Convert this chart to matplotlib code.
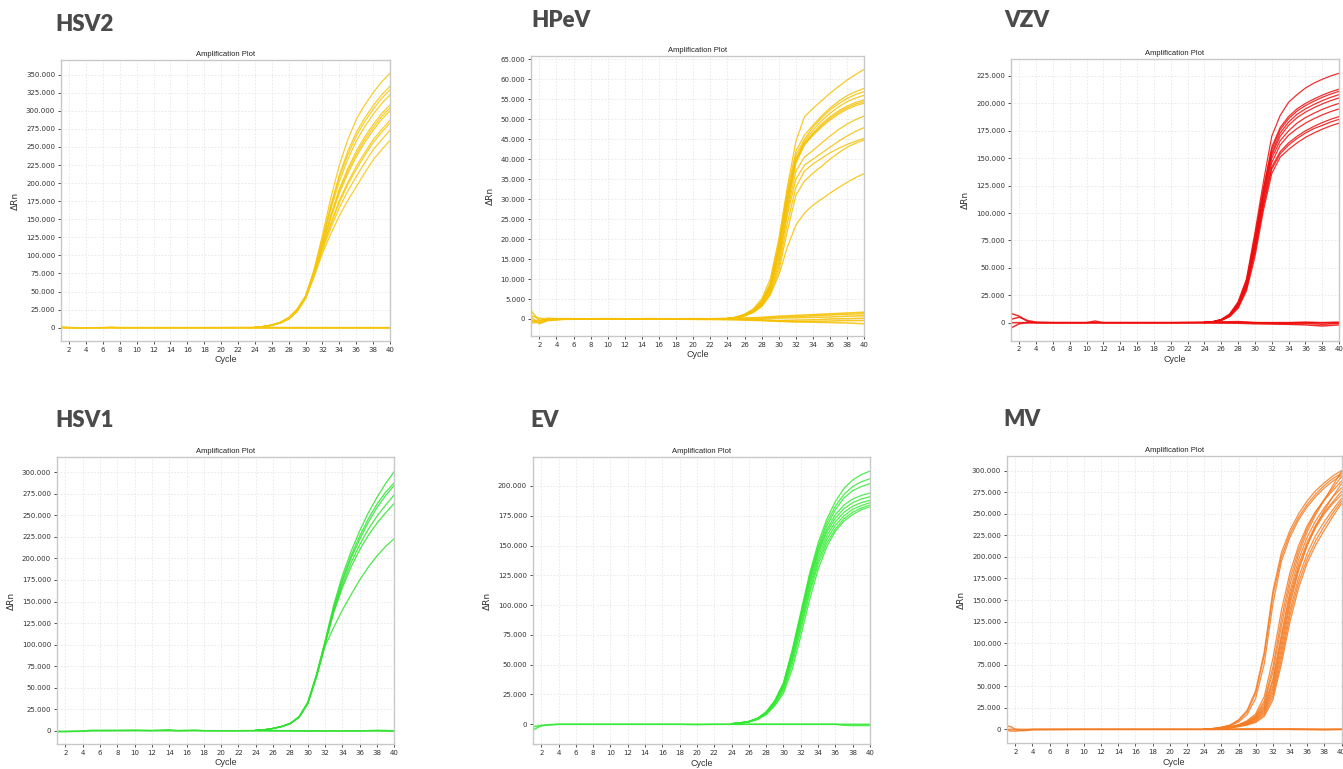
import matplotlib
matplotlib.use('Agg')
import matplotlib.pyplot as plt
from matplotlib.ticker import MultipleLocator, FuncFormatter

# all values in thousands of delta Rn
late_cycles = list(range(24, 41))

# ---- HSV2 ----
hsv2_curves = [
    [0.6, 1.6, 3.8, 7.5, 14, 26, 44, 80, 128, 180, 225, 260, 288, 308, 325, 340, 352],
    [0.6, 1.6, 3.7, 7.4, 14, 25, 43, 78, 123, 170, 211, 244, 270, 290, 307, 322, 334],
    [0.6, 1.5, 3.6, 7.2, 13, 25, 43, 78, 122, 168, 208, 239, 265, 285, 302, 317, 329],
    [0.5, 1.5, 3.6, 7.1, 13, 25, 43, 77, 120, 164, 202, 233, 258, 278, 295, 310, 322],
    [0.5, 1.5, 3.5, 7.0, 13, 24, 42, 75, 116, 156, 192, 220, 244, 264, 281, 296, 308],
    [0.5, 1.4, 3.5, 7.0, 13, 24, 42, 75, 115, 154, 189, 217, 240, 260, 277, 292, 304],
    [0.5, 1.4, 3.4, 6.9, 13, 24, 42, 74, 114, 152, 186, 213, 236, 256, 273, 288, 300],
    [0.5, 1.4, 3.4, 6.8, 12, 23, 41, 73, 111, 145, 176, 201, 223, 242, 260, 274, 287],
    [0.5, 1.4, 3.3, 6.7, 12, 23, 41, 73, 110, 143, 173, 198, 219, 238, 256, 270, 283],
    [0.5, 1.3, 3.3, 6.6, 12, 23, 41, 72, 107, 138, 166, 189, 209, 228, 246, 260, 273],
    [0.5, 1.3, 3.2, 6.5, 12, 22, 40, 70, 103, 130, 155, 176, 195, 214, 232, 246, 259],
]
hsv2_base_x = [1, 2, 3, 4, 6, 7, 8, 10, 14, 18, 22, 24, 30, 34, 38, 40]
hsv2_base = [
    [1.2, 0.4, -0.5, -0.3, 0, 0.6, 0, 0, 0, 0, 0, 0, 0, 0, 0, 0],
    [0.5, -0.3, -0.6, -0.2, 0, 0.3, 0, 0, 0, 0, 0.2, 0.3, 0, 0, 0, 0],
    [0, 0, 0, 0, 0, 0, 0, 0, 0, 0, 0, 0, 0, 0, 0, 0],
]

# ---- HPeV ----
hpev_curves = [
    [0.1, 0.5, 1.2, 2.5, 5.0, 10, 20, 33, 44.5, 50.6, 52.7, 54.6, 56.5, 58.2, 59.8, 61.2, 62.5],
    [0.1, 0.4, 1.1, 2.3, 4.5, 9.0, 19, 32, 42, 46, 48.5, 50.8, 52.8, 54.5, 55.9, 56.9, 57.7],
    [0.1, 0.4, 1.1, 2.2, 4.3, 8.5, 18, 31, 41, 45, 48, 50.3, 52.3, 53.9, 55.2, 56.2, 56.9],
    [0.1, 0.4, 1.0, 2.1, 4.2, 8.3, 18, 30, 40, 44.5, 47.2, 49.6, 51.5, 53.1, 54.4, 55.3, 56.0],
    [0.1, 0.4, 1.0, 2.0, 4.0, 8.0, 17, 30, 40, 44, 46.5, 48.8, 50.6, 52.1, 53.3, 54.2, 54.8],
    [0.1, 0.4, 1.0, 2.0, 4.0, 8.0, 17, 29, 39.5, 43.8, 46.2, 48.4, 50.2, 51.7, 52.9, 53.8, 54.4],
    [0.1, 0.3, 0.9, 1.9, 3.8, 7.5, 16, 28, 39, 43.5, 46, 48, 49.8, 51.3, 52.5, 53.4, 54.0],
    [0.1, 0.3, 0.9, 1.9, 3.8, 7.5, 15, 27, 37, 40.5, 42.2, 44, 45.8, 47.4, 48.8, 49.9, 50.8],
    [0.1, 0.3, 0.9, 1.8, 3.6, 7.0, 14, 26, 35, 38.5, 40, 41.5, 43, 44.5, 45.8, 47, 47.9],
    [0.1, 0.3, 0.8, 1.7, 3.4, 6.5, 13, 24, 33, 37, 38.8, 40.2, 41.6, 42.7, 43.7, 44.5, 45.2],
    [0.1, 0.3, 0.8, 1.7, 3.3, 6.2, 12, 22, 31, 34.5, 36.5, 38.2, 40, 41.6, 43, 44, 44.8],
    [0.1, 0.3, 0.8, 1.6, 3.1, 6.0, 11, 18, 23.5, 26.5, 28.5, 30, 31.5, 32.9, 34.2, 35.4, 36.4],
]
hpev_base_x = [1, 2, 3, 5, 10, 15, 20, 25, 28, 30, 32, 34, 36, 38, 40]
hpev_base = [
    [2.2, -0.5, 0.2, 0, 0.1, 0, 0, 0.1, 0.4, 0.7, 0.9, 1.1, 1.3, 1.5, 1.7],
    [-1.0, -0.8, -0.2, 0, 0, 0.1, 0, 0.2, 0.3, 0.5, 0.6, 0.8, 1.0, 1.2, 1.3],
    [0.5, -1.2, -0.4, -0.1, 0, 0, 0.1, 0, 0, 0.2, 0.3, 0.4, 0.5, 0.7, 0.8],
    [-0.6, -0.3, 0, 0.1, 0, 0, 0, -0.1, -0.3, -0.4, -0.3, -0.2, 0, 0.1, 0.2],
    [0.8, 0.2, -0.1, 0, 0, 0, -0.1, -0.2, -0.4, -0.6, -0.7, -0.6, -0.5, -0.4, -0.4],
    [-0.3, -0.9, -0.3, 0, 0, 0, 0, -0.1, -0.3, -0.5, -0.7, -0.8, -0.9, -1.0, -1.2],
]

# ---- VZV ----
vzv_curves = [
    [0.3, 1.0, 3.0, 8.0, 19, 40, 82, 128, 170, 189, 201, 208, 214, 218.5, 222, 225, 227.5],
    [0.2, 0.9, 2.8, 7.5, 18, 38, 78, 122, 160, 178, 188, 195, 200, 204, 207.5, 210.5, 213],
    [0.2, 0.8, 2.6, 7.0, 17, 37, 77, 121, 158, 176, 186, 193, 198, 202, 205.5, 208.5, 211],
    [0.2, 0.8, 2.5, 7.0, 17, 36, 74, 118, 155, 173, 183, 190, 195, 199, 202.5, 205.5, 208],
    [0.2, 0.8, 2.5, 6.8, 16, 35, 72, 116, 153, 170, 180, 187, 192, 196, 199.5, 202.5, 205],
    [0.2, 0.7, 2.4, 6.5, 16, 34, 70, 114, 150, 166, 175, 182, 187, 191, 194.5, 197.5, 200],
    [0.2, 0.7, 2.3, 6.3, 15, 33, 68, 111, 146, 162, 171, 177, 182, 186, 189.5, 192.5, 195],
    [0.2, 0.7, 2.2, 6.0, 15, 32, 66, 108, 142, 156, 164, 170, 175, 179, 182.5, 185.5, 188],
    [0.2, 0.6, 2.1, 5.8, 14, 31, 64, 106, 140, 154, 162, 168, 173, 177, 180, 183, 185.5],
    [0.1, 0.6, 2.0, 5.5, 13, 29, 60, 102, 136, 151, 158, 164, 169, 173, 176.5, 179.5, 182],
]
vzv_base_x = [1, 2, 3, 4, 6, 10, 11, 12, 16, 20, 24, 28, 30, 34, 36, 38, 40]
vzv_base = [
    [8.5, 6, 1, 0, 0, 0, 1.5, 0, 0, 0, 0, 0.5, 0, 0, 0.5, 0, 0],
    [-5, -1, 0, 0, 0, 0, 0, 0, 0, 0, 0, -0.5, -1, -1.5, -2, -3, -2],
    [3, 5, 2, 0.5, 0, 0, 0, 0, 0, 0, 0.5, 1, 0, -1, -0.5, -1.5, -0.5],
    [0, 0, 0, 0, 0, 0, 0, 0, 0, 0, 0, 0, 0, 0, 0, 0, 0.5],
]

# ---- HSV1 ----
hsv1_curves = [
    [0.5, 1.2, 2.8, 5.0, 8.7, 16.5, 33, 65, 104, 146, 180, 208, 232, 253, 271, 287, 301],
    [0.5, 1.2, 2.7, 5.0, 8.6, 16.2, 32.5, 64, 103, 143, 176, 203, 226, 246, 263, 277, 288],
    [0.5, 1.2, 2.7, 5.0, 8.5, 16, 32, 64, 102, 141, 173, 200, 222, 242, 259, 273, 285],
    [0.5, 1.1, 2.6, 4.9, 8.4, 16, 32, 63, 101, 139, 169, 195, 216, 234, 249, 262, 274],
    [0.5, 1.1, 2.6, 4.8, 8.3, 15.8, 31.5, 62, 100, 137, 166, 190, 210, 227, 241, 253, 264],
    [0.5, 1.1, 2.6, 4.8, 8.2, 15.5, 31, 62, 98, 120, 140, 158, 175, 190, 203, 214, 223],
]
hsv1_base_x = [1, 2, 4, 5, 8, 10, 12, 14, 15, 17, 18, 22, 24, 30, 36, 38, 40]
hsv1_base = [
    [-0.5, -0.8, -0.3, 0.5, 0.5, 0.8, 0.3, 1.2, 0.2, 0.8, 0, 0, 0.2, 0, -0.3, 0.5, 0],
    [-1.2, -1.0, -0.6, -0.2, 0, 0, 0, 0, -0.2, 0, 0, -0.2, 0, -0.5, -0.2, -0.3, -0.6],
]

# ---- EV ----
ev_curves = [
    [0.6, 1.3, 2.5, 5.0, 10.5, 20, 35, 62, 94, 126, 152, 172, 187, 198, 205, 209.5, 212.5],
    [0.5, 1.2, 2.4, 5.0, 10.3, 19.5, 34, 61, 92, 124, 149, 169, 183, 193, 199.5, 203.5, 206],
    [0.5, 1.2, 2.4, 5.0, 10, 19.5, 34, 60, 91, 122, 147, 166, 180, 190, 196, 199.5, 202],
    [0.5, 1.1, 2.3, 4.8, 10, 19, 33, 59, 90, 120, 145, 163, 176, 184, 189, 192, 194],
    [0.5, 1.1, 2.2, 4.6, 9.5, 18.5, 32, 57, 88, 118, 143, 161, 173, 181, 186, 189, 191],
    [0.5, 1.1, 2.2, 4.5, 9.2, 18, 31, 55, 85, 115, 140, 158, 170, 178, 183, 186, 188],
    [0.4, 1.0, 2.1, 4.4, 9.0, 17.5, 30, 53, 82, 112, 137, 155, 167, 175, 180.5, 183.5, 186],
    [0.4, 1.0, 2.0, 4.2, 8.5, 16.5, 28, 50, 79, 109, 134, 152, 164, 172.5, 178, 181.5, 184],
    [0.4, 0.9, 1.9, 4.0, 8.0, 15.5, 26, 46, 74, 104, 130, 149, 162, 170.5, 176, 180, 182.5],
]
ev_base_x = [1, 1.5, 2, 3, 4, 10, 18, 20, 22, 26, 30, 34, 36, 37, 38, 40]
ev_base = [
    [-5, -3, -1.2, -0.5, 0, 0, 0, -0.3, 0, 0, 0, 0, 0, -0.8, -1, -1],
    [-2, -1.5, -1, -0.3, 0, 0, 0, 0, 0, 0, 0, 0, 0, 0, 0, 0],
]

# ---- MV ----
mv_curves = [
    [0.2, 1.0, 2.5, 5.0, 11, 22, 45, 90, 160, 205, 231, 250, 265, 277, 286, 294, 300],
    [0.2, 0.9, 2.3, 4.5, 10, 20, 42, 86, 155, 200, 227, 246, 261, 273, 283, 291, 297],
    [0.1, 0.8, 2.0, 4.0, 8.5, 17, 36, 76, 145, 195, 223, 243, 258, 270, 280, 288, 295],
    [0.1, 0.5, 1.5, 3.0, 5.5, 10, 18, 38, 82, 138, 182, 213, 236, 253, 266, 277, 288],
    [0.1, 0.5, 1.4, 2.8, 5.0, 9.0, 16, 33, 72, 128, 175, 208, 233, 252, 267, 280, 293],
    [0.1, 0.4, 1.3, 2.6, 4.8, 8.5, 15, 30, 66, 120, 168, 203, 229, 249, 266, 283, 299],
    [0.1, 0.4, 1.2, 2.4, 4.5, 8.0, 14, 27, 58, 110, 160, 197, 223, 242, 257, 270, 280],
    [0.1, 0.4, 1.2, 2.3, 4.3, 7.5, 13, 25, 55, 106, 155, 191, 217, 237, 252, 264, 276],
    [0.1, 0.4, 1.1, 2.2, 4.0, 7.0, 12, 23, 50, 100, 150, 187, 214, 234, 250, 262, 272],
    [0.1, 0.3, 1.0, 2.0, 3.8, 6.5, 11, 21, 46, 94, 145, 184, 213, 236, 254, 270, 285],
    [0.1, 0.3, 1.0, 2.0, 3.6, 6.0, 10, 19, 42, 88, 138, 176, 204, 225, 241, 255, 268],
    [0.1, 0.3, 0.9, 1.8, 3.4, 5.5, 9, 17, 38, 82, 132, 170, 198, 219, 236, 251, 265],
    [0.1, 0.3, 0.9, 1.8, 3.2, 5.0, 8, 15, 34, 76, 125, 164, 193, 214, 231, 247, 262],
]
mv_base_x = [1, 1.5, 2, 3, 4, 10, 20, 26, 30, 34, 38, 40]
mv_base = [
    [4, 3, 0, -1.5, -0.5, 0, 0, 0, 0, 0.5, 0, 0],
    [-1, -2, -2, -1, 0, 0, 0, 0, 0, 0, 0, 0],
    [0, 0, 0, 0, 0, 0, 0, 0, 0.5, 0, -0.5, 0],
]

panels = [
    ("HSV2", '#f6c60c', hsv2_curves, hsv2_base_x, hsv2_base, (-18.4, 370.3), 25,
     [0.0452, 0.5566, 0.2452, 0.3654], (55, 31)),
    ("HPeV", '#f5c000', hpev_curves, hpev_base_x, hpev_base, (-4.25, 65.8), 5,
     [0.3952, 0.5631, 0.2484, 0.3641], (531, 27)),
    ("VZV", '#ee0c0c', vzv_curves, vzv_base_x, vzv_base, (-16.4, 240.5), 25,
     [0.7526, 0.5570, 0.2445, 0.3663], (1004, 27)),
    ("HSV1", '#2ee22e', hsv1_curves, hsv1_base_x, hsv1_base, (-15.4, 317.4), 25,
     [0.0422, 0.0325, 0.2514, 0.3728], (55, 427)),
    ("EV", '#33ea33', ev_curves, ev_base_x, ev_base, (-16.8, 224.0), 25,
     [0.3966, 0.0321, 0.2512, 0.3732], (530, 427)),
    ("MV", '#f47b22', mv_curves, mv_base_x, mv_base, (-16.2, 317.0), 25,
     [0.7496, 0.0334, 0.2493, 0.3736], (1003, 426)),
]

W, H = 1343, 769
fig = plt.figure(figsize=(W / 100, H / 100), dpi=100)
fig.patch.set_facecolor('white')

fmt = FuncFormatter(lambda v, p: f"{v * 1000:,.0f}".replace(",", "."))

for name, color, curves, base_x, base, ylim, ystep, rect, head in panels:
    ax = fig.add_axes(rect)
    for vals in base:
        ax.plot(base_x, vals, color=color, lw=1.1, alpha=0.85)
    for vals in curves:
        ax.plot(late_cycles, vals, color=color, lw=0.9, alpha=0.85)
    ax.set_xlim(1, 40)
    ax.set_ylim(*ylim)
    ax.xaxis.set_major_locator(MultipleLocator(2))
    ax.yaxis.set_major_locator(MultipleLocator(ystep))
    ax.yaxis.set_major_formatter(fmt)
    ax.grid(True, color='#e6e6e6', lw=0.6, linestyle=(0, (2, 2)))
    ax.set_axisbelow(True)
    for s in ax.spines.values():
        s.set_color('#c8c8c8')
        s.set_linewidth(1.0)
    ax.tick_params(labelsize=5, colors='#333333', length=2, width=0.6, pad=2)
    ax.set_title("Amplification Plot", fontsize=5.5, color='#222222', pad=3,
                 family='Liberation Sans')
    ax.set_xlabel("Cycle", fontsize=6.5, color='#333333', labelpad=2,
                  family='Liberation Sans')
    ax.set_ylabel("ΔRn", fontsize=6.5, color='#333333', labelpad=4)
    fig.text(head[0] / W, 1 - head[1] / H, name, fontsize=16, fontweight='heavy',
             color='#4a4a4a', family='Lato', ha='left', va='baseline')

fig.savefig("out.png", dpi=100, facecolor='white')
